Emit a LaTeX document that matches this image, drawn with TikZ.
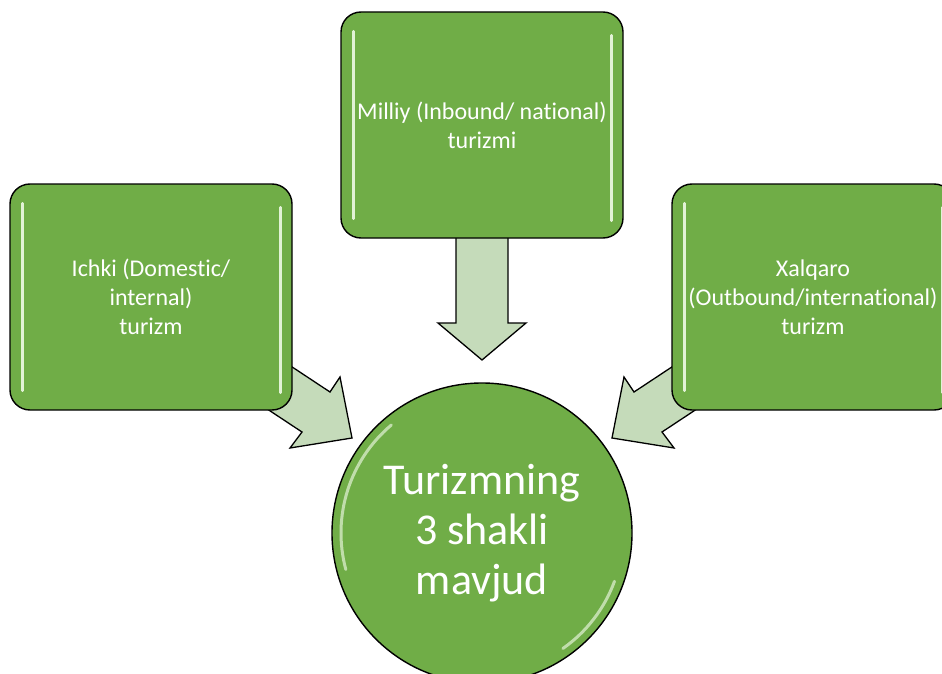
\documentclass[tikz,border=0pt]{standalone}
\usepackage{fontspec}
\setmainfont{Carlito}[Ligatures=NoCommon]
\definecolor{boxgreen}{RGB}{112,173,71}
\definecolor{arrowgreen}{RGB}{197,219,186}
\definecolor{glossgreen}{RGB}{226,242,214}
\begin{document}
\begin{tikzpicture}[x=1pt,y=-1pt,
  box/.style={draw=black, line width=1.4pt, fill=boxgreen, rounded corners=20pt,
    minimum width=282pt, minimum height=226pt, text=white, align=center, inner sep=0pt,
    font=\fontsize{24}{29}\selectfont},
  hub/.style={circle, draw=black, line width=1.4pt, fill=boxgreen, minimum size=300pt,
    text=white, align=center, inner sep=0pt, font=\fontsize{44}{50}\selectfont},
  blockarrow/.style={draw=black, line width=1.3pt, fill=arrowgreen, line join=miter},
  gloss/.style={draw=glossgreen, line width=2.6pt, line cap=round},
  hubgloss/.style={draw=glossgreen, line width=3pt, line cap=round, opacity=0.7}]
\useasboundingbox (0,0) rectangle (942,674);
\clip (0,0) rectangle (942,674);

% block arrows (drawn first, boxes cover their tails)
\draw[blockarrow] (456,230) -- (508,230) -- (508,323) -- (526,323) -- (482,360)
  -- (438,323) -- (456,323) -- cycle;
\draw[blockarrow] (271,353) -- (330,392) -- (340,377) -- (352,438) -- (290,448)
  -- (302,432) -- (243,393) -- cycle;
\draw[blockarrow] (693,353) -- (634,392) -- (624,377) -- (612,438) -- (674,448)
  -- (662,432) -- (721,393) -- cycle;

% boxes
\node[box] (ichki) at (151,297) {Ichki (Domestic/\\internal)\\turizm};
\node[box] (milliy) at (482,125) {Milliy (Inbound/ national)\\turizmi};
\node[box] (xalqaro) at (813,297) {Xalqaro\\(Outbound/international)\\turizm};

% gloss lines
\foreach \n in {ichki,milliy,xalqaro}{
  \draw[gloss] ([xshift=13pt,yshift=-20pt]\n.north west) -- ([xshift=13pt,yshift=20pt]\n.south west);
  \draw[gloss] ([xshift=-12pt,yshift=-24pt]\n.north east) -- ([xshift=-12pt,yshift=18pt]\n.south east);
}

% hub
\node[hub] (markaz) at (482,533) {Turizmning\\3 shakli\\mavjud};
\draw[hubgloss]
  ([shift={(130:141pt)}]markaz.center) arc[start angle=130, end angle=195, radius=141pt];
\draw[hubgloss]
  ([shift={(-20:141pt)}]markaz.center) arc[start angle=-20, end angle=-55, radius=141pt];
\end{tikzpicture}
\end{document}
